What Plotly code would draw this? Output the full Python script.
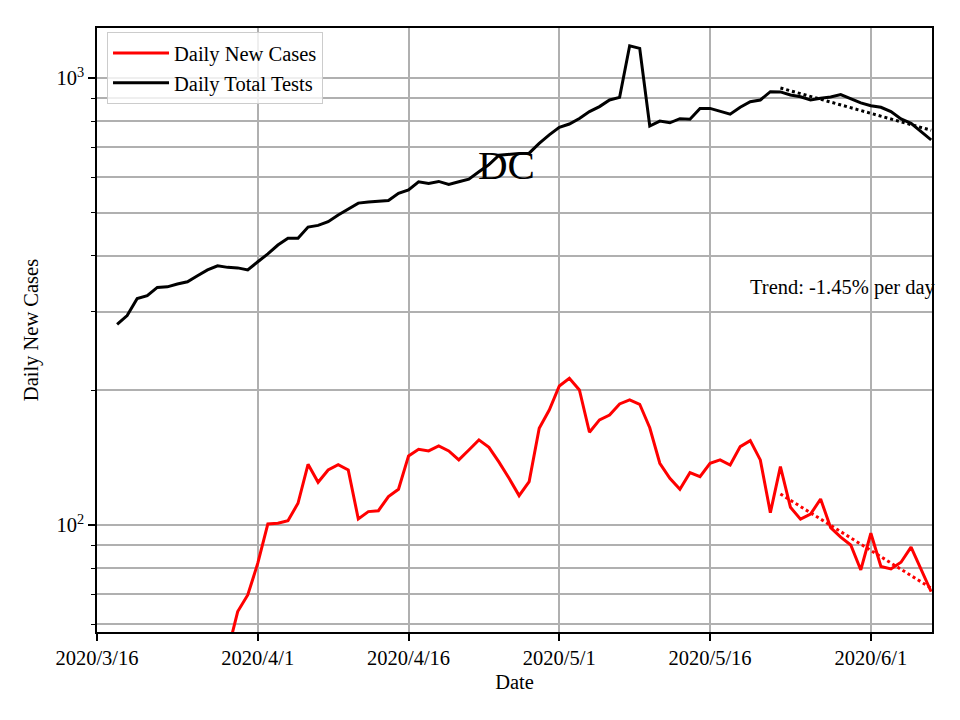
import datetime as dt
import numpy as np
import plotly.graph_objects as go

# ---------------- data ----------------
tests_start = "2020-03-18"
daily_total_tests = [
    281, 294, 321, 326, 340, 341, 346, 350, 361, 372,   # 3/18 - 3/27
    380, 377, 376, 372, 388, 404, 423, 438, 438, 464,   # 3/28 - 4/6
    468, 477, 494, 509, 525, 528, 531, 532, 552, 562,   # 4/7 - 4/16
    586, 581, 587, 578, 586, 594, 617, 640, 672, 676,   # 4/17 - 4/26
    678, 679, 714, 746, 776, 789, 812, 841, 863, 893,   # 4/27 - 5/6
    905, 1181, 1165, 781, 801, 794, 811, 809, 855, 855, # 5/7 - 5/16
    844, 830, 860, 885, 893, 932, 931, 916, 908, 893,   # 5/17 - 5/26
    901, 907, 918, 899, 880, 867, 860, 841, 810, 792,   # 5/27 - 6/5
    759, 727,                                           # 6/6 - 6/7
]

cases_start = "2020-03-29"
daily_new_cases = [
    52, 64.0, 69.7, 82.1, 100.5, 100.9, 102.2, 111.8, 136.7, 124.6,   # 3/29 - 4/7
    132.7, 136.4, 132.7, 103.1, 107.1, 107.6, 115.7, 120.2, 142.7, 147.7,  # 4/8 - 4/17
    146.4, 150.2, 146.4, 139.8, 147.1, 155.0, 149.1, 138.2, 127.2, 116.3,  # 4/18 - 4/27
    125.0, 164.6, 180.8, 204.6, 212.9, 200.4, 161.2, 171.8, 176.2, 186.5,  # 4/28 - 5/7
    190.4, 186.2, 165.0, 137.4, 127.2, 120.2, 130.9, 128.2, 137.4, 139.8,  # 5/8 - 5/17
    136.2, 149.7, 154.4, 139.8, 106.5, 135.0, 109.5, 103.0, 105.7, 114.3,  # 5/18 - 5/27
    98.6, 93.9, 90.2, 79.3, 95.8, 80.7, 79.7, 82.5, 89.2, 79.3,          # 5/28 - 6/6
    70.9,                                                               # 6/7
]

trend_dates = ["2020-05-23", "2020-06-07"]
tests_trend = [950, 764]
cases_trend = [117.3, 72.2]

x_tick_vals = ["2020-03-16", "2020-04-01", "2020-04-16", "2020-05-01", "2020-05-16", "2020-06-01"]
x_tick_text = ["2020/3/16", "2020/4/1", "2020/4/16", "2020/5/1", "2020/5/16", "2020/6/1"]
y_tick_vals = [100, 1000]
y_tick_text = ["10<sup>2</sup>", "10<sup>3</sup>"]
y_minor_vals = [60, 70, 80, 90, 200, 300, 400, 500, 600, 700, 800, 900]


def date_range(start, n):
    d0 = dt.date.fromisoformat(start)
    return [d0 + dt.timedelta(days=i) for i in range(n)]


tests_dates = date_range(tests_start, len(daily_total_tests))
cases_dates = date_range(cases_start, len(daily_new_cases))

FONT = "Liberation Serif"
FS = 20.5

fig = go.Figure()
fig.add_trace(go.Scatter(x=cases_dates, y=daily_new_cases, mode="lines",
                         line=dict(color="red", width=3), name="Daily New Cases"))
fig.add_trace(go.Scatter(x=tests_dates, y=daily_total_tests, mode="lines",
                         line=dict(color="black", width=3), name="Daily Total Tests"))
fig.add_trace(go.Scatter(x=trend_dates, y=tests_trend, mode="lines",
                         line=dict(color="black", width=3, dash="dot"), showlegend=False))
fig.add_trace(go.Scatter(x=trend_dates, y=cases_trend, mode="lines",
                         line=dict(color="red", width=3, dash="dot"), showlegend=False))

fig.add_annotation(x="2020-04-25 19:00", y=np.log10(640), xref="x", yref="y",
                   text="DC", showarrow=False, font=dict(family=FONT, size=41, color="black"),
                   xanchor="center", yanchor="middle")
fig.add_annotation(x="2020-05-19 19:00", y=np.log10(339), xref="x", yref="y",
                   text="Trend: -1.45% per day", showarrow=False,
                   font=dict(family=FONT, size=FS, color="black"),
                   xanchor="left", yanchor="middle")

axis_common = dict(showline=True, linecolor="black", linewidth=1.7, mirror=True,
                   ticks="outside", ticklen=7, tickwidth=1.7, tickcolor="black",
                   showgrid=True, gridcolor="#b0b0b0", gridwidth=1.7, zeroline=False,
                   tickfont=dict(family=FONT, size=FS, color="black"))

fig.update_xaxes(type="date", range=["2020-03-16", "2020-06-07 02:00"],
                 tickmode="array", tickvals=x_tick_vals, ticktext=x_tick_text,
                 title=dict(text="Date", font=dict(family=FONT, size=FS, color="black"), standoff=6),
                 **axis_common)
fig.update_yaxes(type="log", range=[np.log10(57.6), np.log10(1294)],
                 tickmode="array", tickvals=y_tick_vals, ticktext=y_tick_text,
                 minor=dict(tickmode="array", tickvals=y_minor_vals, ticks="outside",
                            ticklen=4, tickwidth=1.3, tickcolor="black",
                            showgrid=True, gridcolor="#b0b0b0", gridwidth=1.7),
                 title=dict(text="Daily New Cases", font=dict(family=FONT, size=FS, color="black"), standoff=12),
                 **axis_common)

fig.update_layout(
    width=960, height=720,
    margin=dict(l=97, r=28, t=28, b=88),
    paper_bgcolor="white", plot_bgcolor="white",
    font=dict(family=FONT, size=FS, color="black"),
    legend=dict(x=0.012, y=0.993, xanchor="left", yanchor="top", itemwidth=56,
                bgcolor="rgba(255,255,255,0.8)", bordercolor="#cccccc", borderwidth=1,
                font=dict(family=FONT, size=FS, color="black")),
    showlegend=True,
)

fig.write_html("out.html", config={"displayModeBar": False},
               post_script="document.body.style.margin='0';")
